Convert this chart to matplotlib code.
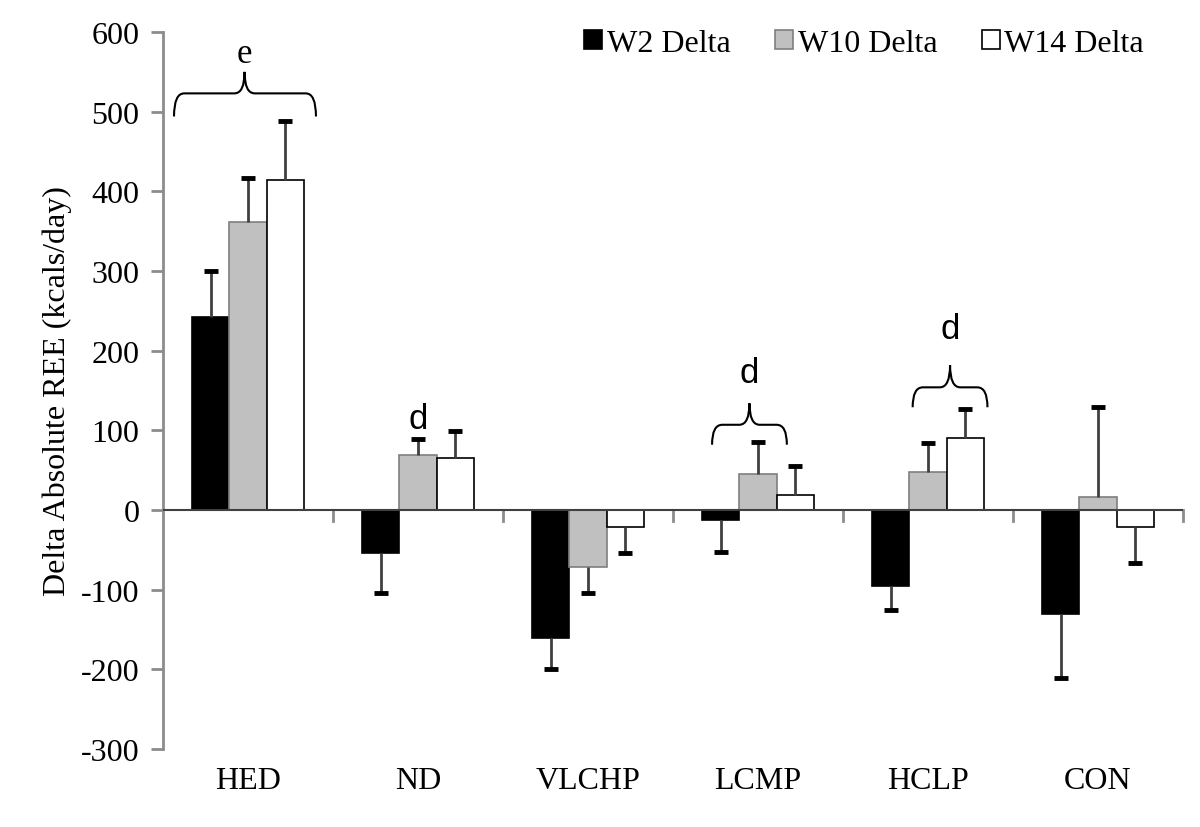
import numpy as np
import matplotlib.pyplot as plt
from matplotlib.path import Path
from matplotlib.patches import PathPatch

# Data
groups = ["HED", "ND", "VLCHP", "LCMP", "HCLP", "CON"]
series = ["W2 Delta", "W10 Delta", "W14 Delta"]
w2 = [242, -54, -161, -12, -95, -130]
w10 = [362, 69, -71, 45, 48, 16]
w14 = [414, 65, -21, 19, 90, -21]
# end of the error bar (value + error, away from zero)
w2_err_end = [300, -104, -200, -53, -125, -211]
w10_err_end = [417, 89, -104, 85, 84, 129]
w14_err_end = [488, 99, -54, 55, 127, -66]

# significance brackets: (x from, x to, tip x, label)
brackets = [(-0.435, 0.40, -0.02, "e"), (2.73, 3.17, 2.95, "d"), (3.91, 4.35, 4.13, "d")]
bracket_levels = [(494, 523, 550, 573), (82, 107, 134, 172), (129, 154, 182, 228)]
nd_label = (1.0, 115, "d")

plt.rcParams['font.family'] = ['Liberation Serif', 'DejaVu Serif']
plt.rcParams['axes.unicode_minus'] = False

fig = plt.figure(figsize=(12, 8.28), dpi=100)
ax = fig.add_axes([0.1358, 0.0942, 0.85, 0.8659])

x = np.arange(len(groups))
width = 0.22
colors = ["black", "#c0c0c0", "white"]
edges = ["black", "#7f7f7f", "black"]
vals = [w2, w10, w14]
ends = [w2_err_end, w10_err_end, w14_err_end]

for i in range(3):
    pos = x + (i - 1) * width
    ax.bar(pos, vals[i], width, color=colors[i], edgecolor=edges[i], linewidth=1.2,
           label=series[i], zorder=2)
    # one sided error bars, cap only at the outer end
    ax.vlines(pos, vals[i], ends[i], color='#404040', lw=2, zorder=3)
    ax.plot(pos, ends[i], ls='none', marker='_', markersize=10, mew=3.5,
            color='black', zorder=3)

# zero line and category boundary ticks
ax.axhline(0, color='#404040', lw=1.5, zorder=4)
for b in np.arange(0.5, len(groups), 1.0):
    ax.plot([b, b], [0, -14], color='#8c8c8c', lw=2, zorder=1, clip_on=False)


def brace(x0, x1, xm, yend, ytop, ytip):
    dx = 0.06
    verts = [(x0, yend), (x0, ytop), (x0 + dx, ytop),
             (xm - dx, ytop), (xm, ytop), (xm, ytip),
             (xm, ytop), (xm + dx, ytop),
             (x1 - dx, ytop), (x1, ytop), (x1, yend)]
    codes = [Path.MOVETO, Path.CURVE3, Path.CURVE3,
             Path.LINETO, Path.CURVE3, Path.CURVE3,
             Path.CURVE3, Path.CURVE3,
             Path.LINETO, Path.CURVE3, Path.CURVE3]
    ax.add_patch(PathPatch(Path(verts, codes), fill=False, lw=1.5,
                           edgecolor='black', zorder=5))


for (x0, x1, xm, lab), (yend, ytop, ytip, ylab) in zip(brackets, bracket_levels):
    brace(x0, x1, xm, yend, ytop, ytip)
    fam = 'Liberation Serif' if lab == "e" else 'Liberation Sans'
    ax.text(xm, ylab, lab, ha='center', va='center', fontsize=25, family=fam)
ax.text(nd_label[0], nd_label[1], nd_label[2], ha='center', va='center',
        fontsize=25, family='Liberation Sans')

ax.set_xlim(-0.5, len(groups) - 0.5)
ax.set_ylim(-300, 600)
ax.set_yticks(np.arange(-300, 601, 100))
ax.set_xticks(x)
ax.set_xticklabels(groups)
ax.tick_params(axis='x', length=0, pad=12, labelsize=23)
ax.tick_params(axis='y', length=9, width=2, color='#8c8c8c', labelsize=23, pad=8)
for s in ['top', 'right', 'bottom']:
    ax.spines[s].set_visible(False)
ax.spines['left'].set_color('#8c8c8c')
ax.spines['left'].set_linewidth(2)
ax.set_ylabel("Delta Absolute REE (kcals/day)", fontsize=23, labelpad=6)

ax.legend(loc='upper right', bbox_to_anchor=(0.99, 1.045), ncol=3, frameon=False,
          fontsize=23, handlelength=0.55, handleheight=0.55, handletextpad=0.15,
          columnspacing=1.4)

plt.savefig("out.png", dpi=100)
